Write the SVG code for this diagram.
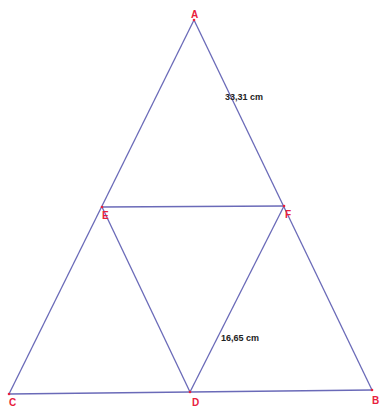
<svg xmlns="http://www.w3.org/2000/svg" width="383" height="408" viewBox="0 0 383 408">
<style>
.ln{stroke:#6a6ab8;stroke-width:1.3;fill:none}
.lb{font-family:"Liberation Sans",Arial,sans-serif;font-size:10px;font-weight:bold;fill:#e8203c}
.dim{font-family:"Liberation Sans",Arial,sans-serif;font-size:9px;font-weight:bold;fill:#222}
.pt{fill:#e8203c}
</style>
<rect width="383" height="408" fill="#fff"/>
<g id="connectors">
<line class="ln" x1="194" y1="20" x2="9" y2="394"/>
<line class="ln" x1="194" y1="20" x2="372" y2="390"/>
<line class="ln" x1="9" y1="394" x2="372" y2="390"/>
<line class="ln" x1="102" y1="207" x2="284" y2="206"/>
<line class="ln" x1="102" y1="207" x2="190" y2="392"/>
<line class="ln" x1="284" y1="206" x2="190" y2="392"/>
</g>
<g id="A"><circle class="pt" cx="194" cy="20" r="1.3"/><text class="lb" x="191" y="18">A</text></g>
<g id="E"><circle class="pt" cx="102" cy="207" r="1.3"/><text class="lb" x="102" y="219">E</text></g>
<g id="F"><circle class="pt" cx="284" cy="206" r="1.3"/><text class="lb" x="285" y="218">F</text></g>
<g id="C"><circle class="pt" cx="9" cy="394" r="1.3"/><text class="lb" x="9" y="406">C</text></g>
<g id="D"><circle class="pt" cx="190" cy="392" r="1.3"/><text class="lb" x="192" y="406">D</text></g>
<g id="B"><circle class="pt" cx="372" cy="390" r="1.3"/><text class="lb" x="372" y="404">B</text></g>
<text class="dim" x="225" y="100">33,31 cm</text>
<text class="dim" x="221" y="341">16,65 cm</text>
</svg>
